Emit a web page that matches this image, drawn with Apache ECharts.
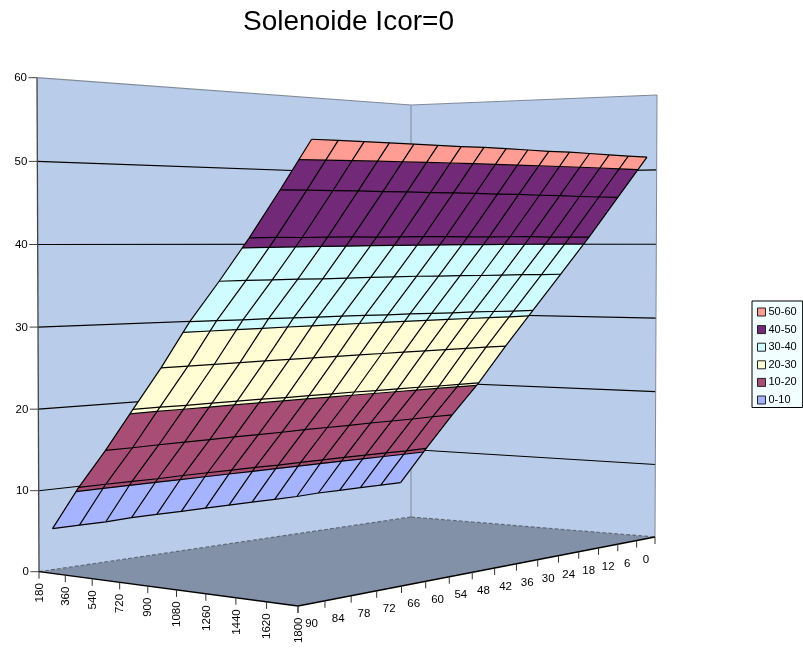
<!DOCTYPE html>
<html><head><meta charset="utf-8">
<style>html,body{margin:0;padding:0;background:#fff}#c{width:803px;height:650px}</style>
<script src="https://cdn.jsdelivr.net/npm/echarts@6/dist/echarts.min.js"></script>
</head><body><div id="c"></div>
<script>
// ---------- data ----------
const xCategories = [180,360,540,720,900,1080,1260,1440,1620,1800];
const depthCategories = [90,84,78,72,66,60,54,48,42,36,30,24,18,12,6,0];
const zTicks = [0,10,20,30,40,50,60];
const bandNames = ['0-10','10-20','20-30','30-40','40-50','50-60'];
const bandColors = ['#A6B4FF','#A84E76','#FFFDD4','#CFFDFF','#722A78','#FF9C94'];
const legendOrder = ['50-60','40-50','30-40','20-30','10-20','0-10'];
// one row per xCategory, one column per depthCategory
const z180  = [5.1,5.1,5.1,5.2,5.2,5.2,5.2,5.2,5.2,5.2,5.2,5.3,5.3,5.3,5.3,5.3];
const z360  = [10.55,10.55,10.55,10.5,10.55,10.55,10.55,10.55,10.5,10.55,10.55,10.55,10.55,10.55,10.5,10.55];
const z540  = [15.35,15.35,15.4,15.4,15.4,15.45,15.45,15.45,15.5,15.5,15.5,15.55,15.55,15.55,15.6,15.6];
const z720  = [20.55,20.55,20.5,20.5,20.5,20.5,20.45,20.45,20.45,20.45,20.4,20.4,20.4,20.35,20.35,20.35];
const z900  = [25.7,25.7,25.7,25.7,25.7,25.7,25.7,25.7,25.7,25.7,25.7,25.7,25.7,25.7,25.7,25.7];
const z1080 = [31.3,31.25,31.2,31.2,31.15,31.1,31.1,31.05,31.0,31.0,30.95,30.9,30.9,30.85,30.8,30.8];
const z1260 = [36.1,36.1,36.05,36.05,36.0,36.0,36.0,36.0,36.0,35.95,35.95,35.9,35.9,35.9,35.85,35.85];
const z1440 = [41.15,41.15,41.1,41.1,41.1,41.05,41.05,41.05,41.05,41.0,41.0,41.0,41.0,40.95,40.95,40.95];
const z1620 = [46.6,46.6,46.55,46.55,46.5,46.5,46.45,46.45,46.45,46.4,46.4,46.35,46.35,46.3,46.3,46.3];
const z1800 = [52.25,52.2,52.15,52.1,52.05,52.0,51.95,51.95,51.9,51.85,51.8,51.8,51.75,51.7,51.65,51.65];
const zRows = [z180,z360,z540,z720,z900,z1080,z1260,z1440,z1620,z1800];

// ---------- projection of the 3D box ----------
const floorL=[39,571.7], floorF=[298,606], floorR=[655,537], floorK=[411,517];
const topL=[37,77.7], topK=[411,105], topR=[657,95];
const zMax = 60;
const persp = 0.0197, warpU = 0.043, warpV = -0.055;
const V0 = 0.0312, V1 = 0.967, U0 = 0, U1 = 1;

function floorHomography(){
  const [x0,y0]=floorL,[x1,y1]=floorF,[x2,y2]=floorR,[x3,y3]=floorK;
  const dx1=x1-x2,dx2=x3-x2,sx=x0-x1+x2-x3,dy1=y1-y2,dy2=y3-y2,sy=y0-y1+y2-y3;
  const det=dx1*dy2-dx2*dy1;
  const g=(sx*dy2-dx2*sy)/det,h=(dx1*sy-sx*dy1)/det;
  return {a:x1-x0+g*x1,b:x3-x0+h*x3,c:x0,d:y1-y0+g*y1,e:y3-y0+h*y3,f:y0,g,h};
}
const H=floorHomography();
const hL=floorL[1]-topL[1],hK=floorK[1]-topK[1],hR=floorR[1]-topR[1];
const invA=1/hL,invC=1/hK-1/hL,invB=1/hR-1/hK;
const driftR=topR[0]-floorR[0],driftL=topL[0]-floorL[0];
function project(u0,v0,z){
  const u=u0+warpU*u0*(1-u0),v=v0+warpV*v0*(1-v0);
  const w=H.g*u+H.h*v+1,r=z/zMax,t=r/(1+persp*(1-r));
  const x=(H.a*u+H.b*v+H.c)/w,y=(H.d*u+H.e*v+H.f)/w;
  return [x+t*(driftR*u*v+driftL*(1-u)*(1-v)),y-t/(invA+invB*u+invC*v)];
}
// surface grid index -> floor position
const rowU=i=>U0+(U1-U0)*i/(xCategories.length-1);
const colV=j=>V0+(V1-V0)*j/(depthCategories.length-1);
function surf(i,j,z){return project(rowU(i),colV(j),z);}

// clip a cell polygon in (i,j,z) to a z band
function clipBelow(poly,lim,sign){
  const out=[];
  for(let n=0;n<poly.length;n++){
    const p=poly[n],q=poly[(n+1)%poly.length];
    const pin=sign*(p[2]-lim)<=0,qin=sign*(q[2]-lim)<=0;
    if(pin)out.push(p);
    if(pin!==qin){const t=(lim-p[2])/(q[2]-p[2]);
      out.push([p[0]+t*(q[0]-p[0]),p[1]+t*(q[1]-p[1]),lim]);}
  }
  return out;
}
const cells=[];
for(let i=0;i<zRows.length-1;i++)for(let j=0;j<depthCategories.length-1;j++)cells.push([i,j]);
function cellPoly(i,j){return [[i,j,zRows[i][j]],[i+1,j,zRows[i+1][j]],[i+1,j+1,zRows[i+1][j+1]],[i,j+1,zRows[i][j+1]]];}

const toPx=(api,p)=>api.coord(p);
function base(name,z,data,render){return {name,type:'custom',coordinateSystem:'cartesian2d',z,silent:true,clip:false,animation:false,data,renderItem:render};}

const WALL='#B9CCE9',FLOOR='#8291A8',EDGE='#7F8A99';
function poly(api,pts,style){return {type:'polygon',shape:{points:pts.map(p=>toPx(api,p))},style};}
function line(api,a,b,stroke,w,dash){return {type:'line',shape:{x1:toPx(api,a)[0],y1:toPx(api,a)[1],x2:toPx(api,b)[0],y2:toPx(api,b)[1]},style:{stroke,lineWidth:w,lineDash:dash||null}};}

const series=[];
// walls + floor
series.push(base('walls',1,[0,1,2],(p,api)=>{
  const k=p.dataIndex;
  if(k===0)return poly(api,[project(0,0,0),project(0,1,0),project(0,1,zMax),project(0,0,zMax)],{fill:WALL});
  if(k===1)return poly(api,[project(0,1,0),project(1,1,0),project(1,1,zMax),project(0,1,zMax)],{fill:WALL});
  return poly(api,[project(0,0,0),project(1,0,0),project(1,1,0),project(0,1,0)],{fill:FLOOR});
}));
// wall grid lines, from the z ticks
series.push(base('wallGrid',2,zTicks.slice(1,-1),(p,api)=>{
  const z=zTicks[p.dataIndex+1];
  return {type:'group',children:[
    line(api,project(0,0,z),project(0,1,z),'#000',1.1),
    line(api,project(0,1,z),project(1,1,z),'#000',1.1)]};
}));
// wall edges
series.push(base('wallEdges',3,[0],(p,api)=>({type:'group',children:[
  line(api,project(0,0,0),project(0,0,zMax),'#444',1.3),
  line(api,project(0,1,0),project(0,1,zMax),EDGE,1),
  line(api,project(1,1,0),project(1,1,zMax),EDGE,1),
  line(api,project(0,0,zMax),project(0,1,zMax),EDGE,1.2),
  line(api,project(0,1,zMax),project(1,1,zMax),EDGE,1.2),
  line(api,project(0,0,0),project(0,1,0),'#5E6878',1.2,[4,2]),
  line(api,project(0,1,0),project(1,1,0),'#5E6878',1.2,[4,2]),
  line(api,project(0,0,0),project(1,0,0),'#000',1.3),
  line(api,project(1,0,0),project(1,1,0),'#000',1.3)
]})));
// bands
bandNames.forEach((nm,b)=>{
  const lo=b*10,hi=(b+1)*10;
  const s=base(nm,5,cells,(p,api)=>{
    const [i,j]=cells[p.dataIndex];
    let g=clipBelow(cellPoly(i,j),hi,1);
    if(g.length)g=clipBelow(g,lo,-1);
    if(g.length<3)return null;
    const pts=g.map(q=>surf(q[0],q[1],q[2]));
    return poly(api,pts,{fill:bandColors[b],stroke:bandColors[b],lineWidth:0.4});
  });
  s.itemStyle={color:bandColors[b]};
  series.push(s);
});
// mesh lines: rows, columns
const rowIdx=xCategories.map((_,i)=>i), colIdx=depthCategories.map((_,j)=>j);
series.push(base('meshRows',6,rowIdx,(p,api)=>{
  const i=p.dataIndex;
  return {type:'polyline',shape:{points:colIdx.map(j=>toPx(api,surf(i,j,zRows[i][j])))},style:{stroke:'#000',lineWidth:1.2,fill:null}};
}));
series.push(base('meshCols',6,colIdx,(p,api)=>{
  const j=p.dataIndex;
  return {type:'polyline',shape:{points:rowIdx.map(i=>toPx(api,surf(i,j,zRows[i][j])))},style:{stroke:'#000',lineWidth:1.2,fill:null}};
}));
// contours at band edges
const contourSeg=[];
zTicks.slice(1,-1).forEach(l=>cells.forEach(c=>contourSeg.push([c[0],c[1],l])));
series.push(base('contours',6,contourSeg,(p,api)=>{
  const [i,j,l]=contourSeg[p.dataIndex],q=cellPoly(i,j),pts=[];
  for(let n=0;n<4;n++){const a=q[n],b=q[(n+1)%4];
    if((a[2]-l)*(b[2]-l)<0){const t=(l-a[2])/(b[2]-a[2]);pts.push(surf(a[0]+t*(b[0]-a[0]),a[1]+t*(b[1]-a[1]),l));}}
  if(pts.length<2)return null;
  return line(api,pts[0],pts[1],'#000',1.2);
}));
const FONT='11.5px "Liberation Sans", Arial, sans-serif';
// z axis
series.push(base('zAxis',7,zTicks,(p,api)=>{
  const z=zTicks[p.dataIndex],a=toPx(api,project(0,0,z));
  return {type:'group',children:[
    {type:'line',shape:{x1:a[0]-8.5,y1:a[1],x2:a[0],y2:a[1]},style:{stroke:'#444',lineWidth:1}},
    {type:'text',x:a[0]-10,y:a[1]+0.5,style:{text:String(z),font:FONT,fill:'#000',align:'right',verticalAlign:'middle'}}]};
}));
// x axis: ticks and labels on the same positions
series.push(base('xAxisLabels',7,xCategories,(p,api)=>{
  const i=p.dataIndex,a=toPx(api,project(i/(xCategories.length-1),0,0));
  return {type:'group',children:[
    {type:'line',shape:{x1:a[0],y1:a[1],x2:a[0],y2:a[1]+7},style:{stroke:'#333',lineWidth:1}},
    {type:'text',x:a[0]+0.5,y:a[1]+11.5,rotation:Math.PI/2,style:{text:String(xCategories[i]),font:FONT,fill:'#000',align:'right',verticalAlign:'middle'}}]};
}));
// depth axis: ticks on bin edges, labels on bin centres
const nBins=depthCategories.length;
const depthTickIdx=Array.from({length:nBins+1},(_,k)=>k);
series.push(base('depthAxisTicks',7,depthTickIdx,(p,api)=>{
  const a=toPx(api,project(1,p.dataIndex/nBins,0));
  return {type:'line',shape:{x1:a[0],y1:a[1],x2:a[0],y2:a[1]+7},style:{stroke:'#333',lineWidth:1}};
}));
series.push(base('depthAxisLabels',7,depthCategories,(p,api)=>{
  const j=p.dataIndex,f=(j+0.5)/nBins,a=toPx(api,project(1,f,0));
  return {type:'text',x:a[0],y:a[1]+20+1.5*f,style:{text:String(depthCategories[j]),font:FONT,fill:'#000',align:'center',verticalAlign:'middle'}};
}));

const chart=echarts.init(document.getElementById('c'),null,{renderer:'canvas'});
chart.setOption({
  animation:false,
  backgroundColor:'#fff',
  title:{text:'Solenoide Icor=0',left:343.5,top:3,textAlign:'center',textStyle:{fontFamily:'"Liberation Sans", Arial, sans-serif',fontSize:28,fontWeight:'normal',color:'#000'}},
  legend:{orient:'vertical',left:752,top:301,padding:[5.5,6,2,5],itemWidth:8,itemHeight:8,itemGap:6.6,
    backgroundColor:'#F2FFFF',borderColor:'#000',borderWidth:1,borderRadius:0,
    icon:'rect',data:legendOrder,selectedMode:false,
    itemStyle:{borderColor:'#222',borderWidth:1},
    textStyle:{fontFamily:'"Liberation Sans", Arial, sans-serif',fontSize:11,color:'#000',padding:[0,0,0,-2]}},
  grid:{left:0,right:0,top:0,bottom:0},
  xAxis:{type:'value',min:0,max:803,show:false},
  yAxis:{type:'value',min:0,max:650,inverse:true,show:false},
  series
});
</script></body></html>
